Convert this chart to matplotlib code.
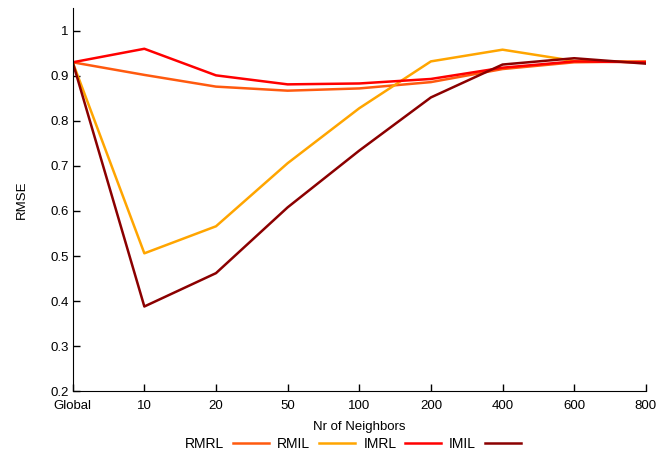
import matplotlib.pyplot as plt
import matplotlib

matplotlib.rc('font', family='Liberation Sans', size=10)

neighbors = ['Global', '10', '20', '50', '100', '200', '400', '600', '800']
rmrl = [0.930, 0.902, 0.876, 0.867, 0.872, 0.886, 0.915, 0.930, 0.932]
rmil = [0.930, 0.506, 0.566, 0.706, 0.828, 0.932, 0.958, 0.933, 0.930]
imrl = [0.930, 0.960, 0.901, 0.881, 0.883, 0.893, 0.918, 0.932, 0.930]
imil = [0.930, 0.388, 0.462, 0.608, 0.734, 0.852, 0.925, 0.939, 0.927]

series = [('RMRL', rmrl, '#ff5a0f'), ('RMIL', rmil, '#ffa500'),
          ('IMRL', imrl, '#ff0000'), ('IMIL', imil, '#8b0000')]


def draw_plt():
    fig = plt.figure(figsize=(6.61, 4.57), dpi=100)
    ax = fig.add_axes([0.110, 0.144, 0.867, 0.838])
    x = list(range(len(neighbors)))
    for name, vals, color in series:
        ax.plot(x, vals, color=color, lw=1.8, label=name)
    ax.set_xlim(0, len(neighbors) - 1)
    ax.set_ylim(0.2, 1.05)
    ax.set_xticks(x)
    ax.set_xticklabels(neighbors)
    ax.set_yticks([0.2, 0.3, 0.4, 0.5, 0.6, 0.7, 0.8, 0.9, 1.0])
    ax.set_yticklabels(['0.2', '0.3', '0.4', '0.5', '0.6', '0.7', '0.8', '0.9', '1'])
    ax.tick_params(direction='in', length=5, width=1, labelsize=9.5, pad=3)
    ax.tick_params(axis='x', pad=6)
    ax.spines['top'].set_visible(False)
    ax.spines['right'].set_visible(False)
    ax.set_xlabel('Nr of Neighbors', fontsize=9.5, labelpad=7)
    ax.set_ylabel('RMSE', fontsize=9.5, labelpad=16)
    fig.legend(loc='center', bbox_to_anchor=(0.534, 0.028), ncol=4, frameon=False,
               markerfirst=False, handlelength=2.6, columnspacing=0.6,
               handletextpad=0.6, fontsize=10)
    fig.savefig('out.png')


if __name__ == '__main__':
    draw_plt()
